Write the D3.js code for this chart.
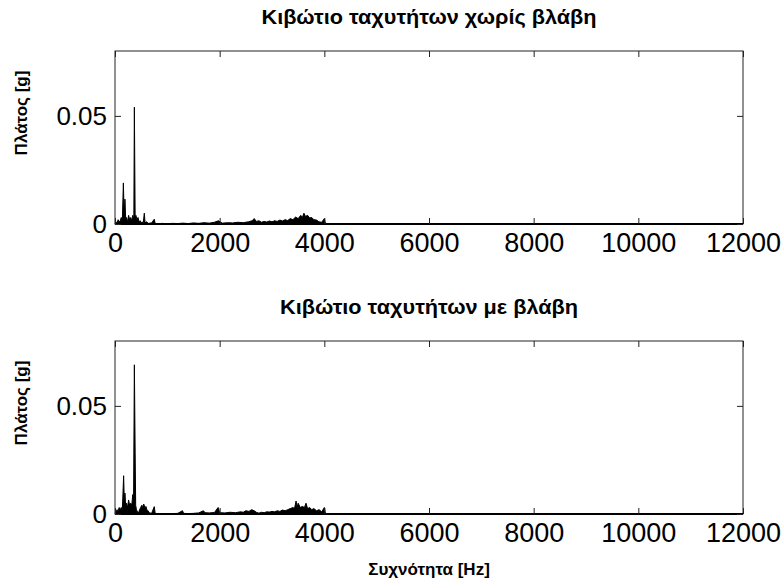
<!DOCTYPE html>
<html lang="el">
<head>
<meta charset="UTF-8">
<title>Κιβώτιο ταχυτήτων</title>
<style>
  body { margin: 0; background: #fff; }
  text { font-family: "Liberation Sans", Arial, sans-serif; fill: #000; }
  .title, .label { font-weight: bold; }
</style>
</head>
<body>
<svg width="784" height="581"></svg>
<script src="https://cdn.jsdelivr.net/npm/d3@7"></script>
<script>
// spectrum, gearbox without fault (freq in Hz, amplitude in g)
var freqHealthy = [0, 20, 40, 60, 80, 100, 120, 140, 160, 175, 190, 205, 220, 240, 260, 280, 300, 320, 340, 360, 370, 385, 400, 420, 440, 460, 480, 500, 520, 540, 560, 575, 600, 640, 700, 750, 770, 900, 1000, 1100, 1200, 1300, 1400, 1500, 1600, 1700, 1800, 1900, 1975, 2050, 2150, 2250, 2350, 2450, 2550, 2620, 2660, 2700, 2750, 2800, 2850, 2900, 2950, 3000, 3050, 3100, 3150, 3200, 3250, 3300, 3350, 3400, 3450, 3500, 3550, 3580, 3610, 3640, 3680, 3720, 3760, 3800, 3850, 3900, 3950, 4000, 4020, 4100, 12000];
var ampHealthy = [0, 0.001, 0.0005, 0.002, 0.001, 0.0015, 0.003, 0.001, 0.019, 0.004, 0.0115, 0.002, 0.003, 0.001, 0.004, 0.002, 0.003, 0.0015, 0.004, 0.002, 0.054, 0.003, 0.004, 0.002, 0.003, 0.001, 0.0015, 0.0005, 0.001, 0.0005, 0.005, 0.0005, 0.001, 0.0003, 0.0005, 0.0022, 0, 0.0003, 0.0001, 0.0003, 0.0002, 0.0004, 0.0002, 0.0005, 0.0003, 0.0006, 0.0004, 0.0008, 0.0015, 0.0004, 0.0006, 0.0005, 0.0008, 0.0006, 0.001, 0.0015, 0.0025, 0.0012, 0.0015, 0.0008, 0.0012, 0.0009, 0.0014, 0.001, 0.0015, 0.0012, 0.0018, 0.0014, 0.002, 0.0016, 0.0025, 0.002, 0.0032, 0.0025, 0.004, 0.003, 0.005, 0.0035, 0.004, 0.0028, 0.003, 0.002, 0.0018, 0.001, 0.0008, 0.0025, 0.0003, 0.0001, 0];

// spectrum, gearbox with fault
var freqFaulty = [0, 20, 40, 60, 80, 100, 120, 140, 165, 180, 190, 205, 220, 240, 260, 280, 300, 320, 340, 355, 370, 385, 395, 410, 430, 450, 470, 490, 510, 530, 550, 570, 590, 610, 630, 660, 700, 750, 770, 900, 1000, 1100, 1200, 1290, 1310, 1400, 1500, 1600, 1690, 1720, 1800, 1900, 1970, 2000, 2100, 2200, 2300, 2400, 2450, 2500, 2560, 2610, 2660, 2700, 2750, 2800, 2850, 2900, 2950, 3000, 3050, 3100, 3150, 3200, 3250, 3300, 3350, 3400, 3430, 3460, 3480, 3500, 3540, 3580, 3620, 3650, 3680, 3720, 3760, 3800, 3850, 3900, 3950, 4000, 4020, 4100, 12000];
var ampFaulty = [0, 0.001, 0.002, 0.0015, 0.003, 0.002, 0.003, 0.0015, 0.0177, 0.004, 0.0097, 0.003, 0.005, 0.003, 0.0065, 0.004, 0.005, 0.004, 0.009, 0.006, 0.069, 0.0286, 0.004, 0.002, 0.001, 0.0005, 0.002, 0.003, 0.004, 0.0035, 0.0046, 0.003, 0.0035, 0.002, 0.0015, 0.0005, 0.0003, 0.0034, 0, 0.0002, 0.0001, 0.0002, 0.0003, 0.0015, 0.0003, 0.0002, 0.0003, 0.0005, 0.0015, 0.0006, 0.0005, 0.0007, 0.003, 0.0006, 0.0005, 0.0008, 0.0006, 0.001, 0.0008, 0.0015, 0.0012, 0.002, 0.0015, 0.0008, 0.0004, 0.0008, 0.0006, 0.001, 0.0009, 0.0012, 0.001, 0.0015, 0.0012, 0.0018, 0.0015, 0.002, 0.0025, 0.003, 0.0025, 0.006, 0.003, 0.005, 0.003, 0.0035, 0.003, 0.005, 0.0025, 0.003, 0.002, 0.0025, 0.0015, 0.002, 0.001, 0.003, 0.0003, 0.0001, 0];

var xTicks = [0, 2000, 4000, 6000, 8000, 10000, 12000];
var yTicks = [0, 0.05];
var titles = ["Κιβώτιο ταχυτήτων χωρίς βλάβη", "Κιβώτιο ταχυτήτων με βλάβη"];
var yLabel = "Πλάτος [g]";
var xLabel = "Συχνότητα [Hz]";

var svg = d3.select("svg");

var panels = [
  { top: 51, freq: freqHealthy, amp: ampHealthy, title: titles[0], titleW: 335 },
  { top: 341, freq: freqFaulty, amp: ampFaulty, title: titles[1], titleW: 298 }
];

var left = 115, right = 743, plotH = 173;

var x = d3.scaleLinear().domain([0, 12000]).range([left, right]);

panels.forEach(function(p) {
  var y = d3.scaleLinear().domain([0, 0.08]).range([p.top + plotH, p.top]);
  var g = svg.append("g");
  var pts = p.freq.map(function(f, i) { return [f, p.amp[i]]; });

  // the spectrum
  g.append("path")
    .datum(pts)
    .attr("fill", "#000")
    .attr("d", d3.area().x(d => x(d[0])).y0(y(0)).y1(d => y(d[1])));
  g.append("path")
    .datum(pts)
    .attr("fill", "none")
    .attr("stroke", "#000")
    .attr("stroke-width", 1)
    .attr("d", d3.line().x(d => x(d[0])).y(d => y(d[1])));

  // box
  g.append("rect")
    .attr("x", left).attr("y", p.top)
    .attr("width", right - left).attr("height", plotH)
    .attr("fill", "none").attr("stroke", "#222").attr("stroke-width", 1);
  g.append("line")
    .attr("x1", left).attr("x2", right)
    .attr("y1", y(0)).attr("y2", y(0))
    .attr("stroke", "#000").attr("stroke-width", 2);

  // inward ticks on all four sides
  var bottom = g.append("g").attr("transform", `translate(0,${y(0)})`)
    .call(d3.axisBottom(x).tickValues(xTicks).tickSize(-6).tickFormat(d3.format("d")).tickPadding(9));
  var top = g.append("g").attr("transform", `translate(0,${p.top})`)
    .call(d3.axisTop(x).tickValues(xTicks).tickSize(-6).tickFormat(""));
  var lft = g.append("g").attr("transform", `translate(${left},0)`)
    .call(d3.axisLeft(y).tickValues(yTicks).tickSize(-6).tickFormat(d => d === 0 ? "0" : d3.format(".2f")(d)).tickPadding(8));
  var rgt = g.append("g").attr("transform", `translate(${right},0)`)
    .call(d3.axisRight(y).tickValues(yTicks).tickSize(-6).tickFormat(""));

  [bottom, top, lft, rgt].forEach(function(a) {
    a.select(".domain").remove();
    a.selectAll(".tick line").attr("stroke", "#222");
  });
  bottom.selectAll("text")
    .style("font-size", "27px")
    .style("font-family", "'Liberation Sans', Arial, sans-serif")
    .attr("fill", "#000");
  lft.selectAll("text")
    .style("font-size", "26px")
    .style("font-family", "'Liberation Sans', Arial, sans-serif")
    .attr("fill", "#000");

  g.append("text")
    .attr("class", "title")
    .attr("x", (left + right) / 2)
    .attr("y", p.top - 27)
    .attr("text-anchor", "middle")
    .attr("textLength", p.titleW)
    .attr("lengthAdjust", "spacingAndGlyphs")
    .style("font-size", "20px")
    .text(p.title);

  g.append("text")
    .attr("class", "label")
    .attr("transform", `translate(27,${p.top + 62}) rotate(-90)`)
    .attr("text-anchor", "middle")
    .style("font-size", "17px")
    .text(yLabel);
});

svg.append("text")
  .attr("class", "label")
  .attr("x", (left + right) / 2)
  .attr("y", 575)
  .attr("text-anchor", "middle")
  .style("font-size", "17px")
  .text(xLabel);
</script>
</body>
</html>
